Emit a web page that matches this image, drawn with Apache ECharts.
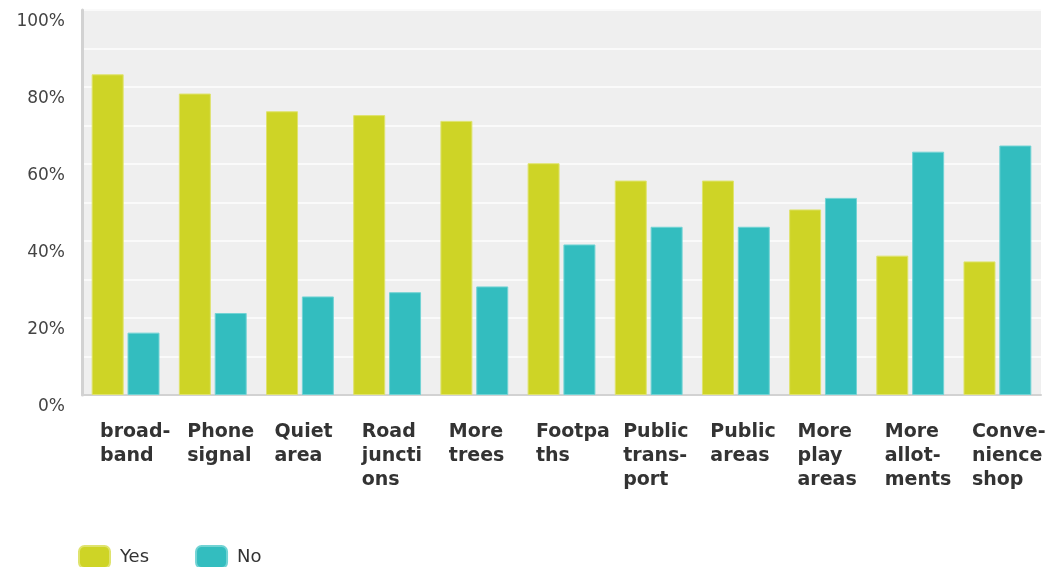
<!DOCTYPE html>
<html>
<head>
<meta charset="utf-8">
<script src="https://cdn.jsdelivr.net/npm/echarts@6/dist/echarts.min.js"></script>
<style>
  html, body { margin: 0; padding: 0; background: #fff; }
  #chart { width: 1046px; height: 567px; }
</style>
</head>
<body>
<div id="chart"></div>
<script>
var categories = [
  'broad-\nband', 'Phone\nsignal', 'Quiet\narea', 'Road\njuncti\nons', 'More\ntrees',
  'Footpa\nths', 'Public\ntrans-\nport', 'Public\nareas', 'More\nplay\nareas',
  'More\nallot-\nments', 'Conve-\nnience\nshop'
];
var yesValues = [83.3, 78.3, 73.7, 72.7, 71.2, 60.2, 55.7, 55.7, 48.2, 36.2, 34.7];
var noValues = [16.2, 21.3, 25.6, 26.7, 28.2, 39.1, 43.7, 43.7, 51.2, 63.2, 64.8];

var myChart = echarts.init(document.getElementById('chart'));

var option = {
  animation: false,
  textStyle: { fontFamily: 'DejaVu Sans' },
  legend: {
    left: 78,
    top: 545,
    padding: 0,
    itemWidth: 31,
    itemHeight: 22,
    itemGap: 46,
    icon: 'roundRect',
    textStyle: { fontSize: 18, color: '#333', fontFamily: 'DejaVu Sans', padding: [0, 0, 0, 5] },
    data: ['Yes', 'No']
  },
  grid: {
    left: 82,
    right: 5,
    top: 10,
    bottom: 172,
    outerBoundsMode: 'none',
    containLabel: false,
    show: true,
    backgroundColor: '#efefef',
    borderWidth: 0
  },
  xAxis: {
    type: 'category',
    data: categories,
    axisLine: { lineStyle: { color: '#d2d2d2', width: 2 } },
    axisTick: { show: false },
    axisLabel: {
      interval: 0,
      margin: 25,
      align: 'center',
      color: '#333',
      fontSize: 19,
      fontWeight: 'bold',
      lineHeight: 24,
      formatter: function (v) {
        return v.split('\n').map(function (s) { return '{a|' + s + '}'; }).join('\n');
      },
      rich: {
        a: { width: 51, align: 'left', fontSize: 19, fontWeight: 'bold', lineHeight: 24, color: '#333', fontFamily: 'DejaVu Sans' }
      }
    }
  },
  yAxis: {
    type: 'value',
    min: 0,
    max: 100,
    interval: 20,
    axisLine: { show: true, lineStyle: { color: '#d2d2d2', width: 3 } },
    axisTick: { show: false },
    splitLine: { lineStyle: { color: '#fafafa', width: 2 } },
    minorTick: { show: false, splitNumber: 2 },
    minorSplitLine: { show: true, lineStyle: { color: '#fafafa', width: 2 } },
    axisLabel: {
      margin: 17,
      color: '#444',
      fontSize: 17,
      verticalAlign: 'top',
      padding: [3, 0, 0, 0],
      formatter: '{value}%'
    }
  },
  series: [
    {
      name: 'Yes',
      type: 'bar',
      data: yesValues,
      barWidth: 32,
      barGap: '12%',
      itemStyle: { color: '#ced426', borderColor: '#dfe36e', borderWidth: 1 }
    },
    {
      name: 'No',
      type: 'bar',
      data: noValues,
      barWidth: 32,
      itemStyle: { color: '#33bdbf', borderColor: '#72d3d4', borderWidth: 1 }
    }
  ]
};

myChart.setOption(option);
</script>
</body>
</html>
